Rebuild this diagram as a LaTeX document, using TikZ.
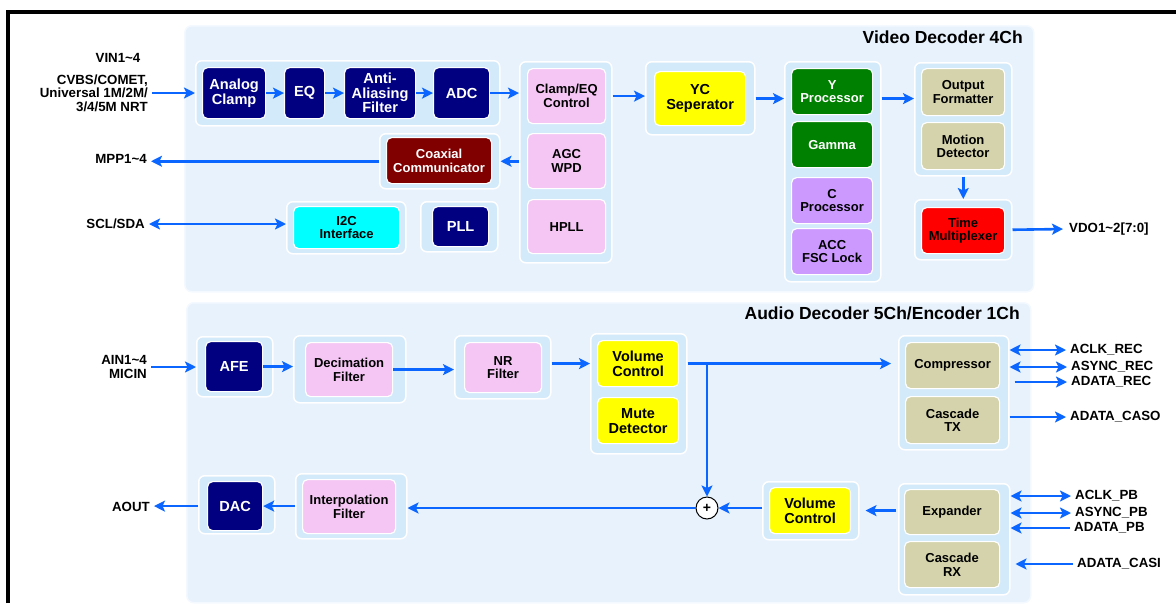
\documentclass[tikz,border=0pt]{standalone}
\usepackage{fontspec}
\setmainfont{Liberation Sans}
\usetikzlibrary{arrows.meta,calc}

\definecolor{fondopanel}{HTML}{E8F2FD}
\definecolor{bordepanel}{HTML}{F4F9FF}
\definecolor{fondogrupo}{HTML}{D3EAFB}
\definecolor{azulmarino}{HTML}{000080}
\definecolor{rosado}{HTML}{F5C6F4}
\definecolor{granate}{HTML}{800000}
\definecolor{cian}{HTML}{00FFFF}
\definecolor{amarillo}{HTML}{FFFF00}
\definecolor{verde}{HTML}{008000}
\definecolor{lila}{HTML}{CC99FF}
\definecolor{caqui}{HTML}{D4D3AB}
\definecolor{rojo}{HTML}{FF0000}
\definecolor{azulflecha}{HTML}{0A66FF}

\tikzset{
	panel/.style={draw=bordepanel, line width=1.5pt, fill=fondopanel, rounded corners=7pt, anchor=north west, inner sep=0pt},
	grupo/.style={draw=white, line width=1.5pt, fill=fondogrupo, rounded corners=6pt, anchor=north west, inner sep=0pt},
	bloque/.style={draw=white, line width=1.2pt, rounded corners=5pt, anchor=north west, inner sep=0pt, align=center, font=\bfseries\fontsize{13}{13.5}\selectfont},
	bmarino/.style={bloque, fill=azulmarino, text=white, font=\bfseries\fontsize{14.6}{14.5}\selectfont},
	brosa/.style={bloque, fill=rosado},
	bgranate/.style={bloque, fill=granate, text=white},
	bcian/.style={bloque, fill=cian},
	bamarillo/.style={bloque, fill=amarillo, font=\bfseries\fontsize{14.5}{15}\selectfont},
	bverde/.style={bloque, fill=verde, text=white},
	blila/.style={bloque, fill=lila},
	bcaqui/.style={bloque, fill=caqui},
	brojo/.style={bloque, fill=rojo},
	etiqueta/.style={inner sep=4pt, align=right, font=\bfseries\fontsize{13.3}{13.5}\selectfont},
	titulo/.style={anchor=east, inner sep=0pt, font=\bfseries\fontsize{17.5}{18}\selectfont},
	flecha/.style={draw=azulflecha, line width=2.6pt, -{Stealth[length=11pt,width=11pt,inset=2.5pt]}},
	doble/.style={draw=azulflecha, line width=2.6pt, {Stealth[length=11pt,width=11pt,inset=2.5pt]}-{Stealth[length=11pt,width=11pt,inset=2.5pt]}},
}

\begin{document}
\begin{tikzpicture}[x=1pt, y=-1pt]
	\useasboundingbox (0,0) rectangle (1176,603);

	% marco
	\draw[line width=4pt] (8,603) -- (8,12) -- (1176,12);

	% paneles
	\node[panel, minimum width=849, minimum height=266] (pvideo) at (184,25) {}; % (184,25)-(1033,291)
	\node[panel, minimum width=844, minimum height=300] (paudio) at (186,302) {}; % (186,302)-(1030,602)
	\node[titulo] (tvideo) at (1023,37) {Video Decoder 4Ch};
	\node[titulo] (taudio) at (1020,313) {Audio Decoder 5Ch/Encoder 1Ch};

	% grupos del video
	\node[grupo, minimum width=304, minimum height=65] (g1) at (195,60) {};
	\node[grupo, minimum width=92, minimum height=201] (g2) at (519,61) {};
	\node[grupo, minimum width=120, minimum height=55] (g3) at (379,133) {};
	\node[grupo, minimum width=119, minimum height=52] (g4) at (286,201) {};
	\node[grupo, minimum width=77, minimum height=50] (g5) at (420,201) {};
	\node[grupo, minimum width=109, minimum height=73] (g6) at (645,61) {};
	\node[grupo, minimum width=96, minimum height=220] (g7) at (784,61) {};
	\node[grupo, minimum width=97, minimum height=113] (g8) at (914,62) {};
	\node[grupo, minimum width=97, minimum height=60] (g9) at (914,199) {};

	% bloques del video
	\node[bmarino, minimum width=63, minimum height=51] (aclamp) at (202,67) {Analog\\Clamp};
	\node[bmarino, minimum width=40, minimum height=51] (eq) at (284,67) {EQ};
	\node[bmarino, minimum width=71, minimum height=51] (aaf) at (344,67) {Anti-\\Aliasing\\Filter};
	\node[bmarino, minimum width=56, minimum height=51] (adc) at (433,67) {ADC};
	\node[brosa, minimum width=78, minimum height=55] (clampeq) at (527,68) {Clamp/EQ\\Control};
	\node[brosa, minimum width=78, minimum height=55] (agc) at (527,133) {AGC\\WPD};
	\node[brosa, minimum width=78, minimum height=54] (hpll) at (527,199) {HPLL};
	\node[bgranate, minimum width=105, minimum height=46] (coax) at (386,137) {Coaxial\\Communicator};
	\node[bcian, minimum width=106, minimum height=42] (i2c) at (293,206) {I2C\\Interface};
	\node[bmarino, minimum width=56, minimum height=40] (pll) at (432,206) {PLL};
	\node[bamarillo, minimum width=91, minimum height=54] (yc) at (654,71) {YC\\Seperator};
	\node[bverde, minimum width=81, minimum height=46] (yproc) at (791,68) {Y\\Processor};
	\node[bverde, minimum width=81, minimum height=46] (gamma) at (791,121) {Gamma};
	\node[blila, minimum width=81, minimum height=46] (cproc) at (791,177) {C\\Processor};
	\node[blila, minimum width=81, minimum height=46] (acc) at (791,228) {ACC\\FSC Lock};
	\node[bcaqui, minimum width=83, minimum height=47] (outf) at (921,68) {Output\\Formatter};
	\node[bcaqui, minimum width=83, minimum height=47] (motion) at (921,122) {Motion\\Detector};
	\node[brojo, minimum width=83, minimum height=46] (tm) at (921,207) {Time\\Multiplexer};

	% etiquetas del video
	\node[etiqueta] (vin) at (118,58) {VIN1\textasciitilde 4};
	\node[etiqueta, anchor=east] (cvbs) at (152,93) {CVBS/COMET,\\Universal 1M/2M/\\3/4/5M NRT};
	\node[etiqueta, anchor=east] (mpp) at (151,159) {MPP1\textasciitilde 4};
	\node[etiqueta, anchor=east] (scl) at (149,224) {SCL/SDA};
	\node[etiqueta, anchor=west] (vdo) at (1065,229) {VDO1\textasciitilde 2[7:0]};

	% flechas del video
	\draw[flecha] (cvbs.east) -- (cvbs.east -| g1.west);
	\draw[flecha] (aclamp) -- (eq);
	\draw[flecha] (eq) -- (aaf);
	\draw[flecha] (aaf) -- (adc);
	\draw[flecha] (adc) -- (adc -| g2.west);
	\draw[flecha] (g2.east |- clampeq) -- (g6.west |- clampeq);
	\draw[flecha] (g6.east |- yc) -- (g7.west |- yc);
	\draw[flecha] (g7.east |- yc) -- (g8.west |- yc);
	\draw[flecha] (g8) -- (g9);
	\draw[flecha, shorten >=2pt] (g9.east) -- (vdo.west);
	\draw[flecha] (g2.west |- g3) -- (g3.east);
	\draw[flecha] (g3.west) -- (g3.west -| mpp.east);
	\draw[doble] (scl.east) -- (scl.east -| g4.west);

	% grupos del audio
	\node[grupo, minimum width=76, minimum height=60] (a1) at (196,336) {};
	\node[grupo, minimum width=112, minimum height=67] (a2) at (293,335) {};
	\node[grupo, minimum width=96, minimum height=63] (a3) at (454,335) {};
	\node[grupo, minimum width=96, minimum height=120] (a4) at (590,333) {};
	\node[grupo, minimum width=110, minimum height=114] (a5) at (898,335) {};
	\node[grupo, minimum width=111, minimum height=111] (a6) at (898,483) {};
	\node[grupo, minimum width=96, minimum height=58] (a7) at (762,481) {};
	\node[grupo, minimum width=111, minimum height=65] (a8) at (295,473) {};
	\node[grupo, minimum width=76, minimum height=58] (a9) at (198,475) {};

	% bloques del audio
	\node[bmarino, minimum width=57, minimum height=50] (afe) at (205,341) {AFE};
	\node[brosa, minimum width=87, minimum height=54] (dec) at (305,342) {Decimation\\Filter};
	\node[brosa, minimum width=77, minimum height=50] (nr) at (464,342) {NR\\Filter};
	\node[bamarillo, minimum width=81, minimum height=46] (vol) at (597,340) {Volume\\Control};
	\node[bamarillo, minimum width=81, minimum height=46] (mute) at (597,397) {Mute\\Detector};
	\node[bcaqui, minimum width=94, minimum height=46] (comp) at (905,342) {Compressor};
	\node[bcaqui, minimum width=94, minimum height=47] (ctx) at (905,396) {Cascade\\TX};
	\node[bcaqui, minimum width=95, minimum height=45] (exp) at (904,489) {Expander};
	\node[bcaqui, minimum width=95, minimum height=46] (crx) at (904,541) {Cascade\\RX};
	\node[bamarillo, minimum width=81, minimum height=46] (vol2) at (769,487) {Volume\\Control};
	\node[brosa, minimum width=93, minimum height=54] (interp) at (302,479) {Interpolation\\Filter};
	\node[bmarino, minimum width=55, minimum height=49] (dac) at (207,481) {DAC};
	\node[circle, draw=black, line width=1pt, fill=white, minimum size=22, inner sep=0pt, font=\bfseries\fontsize{14}{14}\selectfont] (suma) at (707,508) {+};

	% etiquetas del audio
	\node[etiqueta, anchor=east] (ain) at (151,367) {AIN1\textasciitilde 4\\MICIN};
	\node[etiqueta, anchor=east] (aout) at (154,507) {AOUT};
	\node[etiqueta, anchor=west] (aclkrec) at (1066,350) {ACLK\_REC};
	\node[etiqueta, anchor=west] (asyncrec) at (1067,367) {ASYNC\_REC};
	\node[etiqueta, anchor=west] (adatarec) at (1067,382) {ADATA\_REC};
	\node[etiqueta, anchor=west] (adatacaso) at (1066,417) {ADATA\_CASO};
	\node[etiqueta, anchor=west] (aclkpb) at (1071,496) {ACLK\_PB};
	\node[etiqueta, anchor=west] (asyncpb) at (1071,513) {ASYNC\_PB};
	\node[etiqueta, anchor=west] (adatapb) at (1070,528) {ADATA\_PB};
	\node[etiqueta, anchor=west] (adatacasi) at (1073,564) {ADATA\_CASI};

	% flechas del audio
	\draw[flecha] (ain.east) -- (ain.east -| a1.west);
	\draw[flecha] (afe) -- (afe -| a2.west);
	\draw[flecha] (dec) -- (dec -| a3.west);
	\draw[flecha] (a3.east |- vol) -- (a4.west |- vol);
	\draw[flecha, shorten >=7pt] (a4.east |- vol) -- (a5.west |- vol);
	\coordinate (union) at (suma |- vol);
	\draw[flecha] (union) -- (suma);
	\draw[flecha, shorten <=2pt, shorten >=6pt] (a6.west |- vol2) -- (a7.east |- vol2);
	\draw[flecha] (a7.west |- suma) -- (suma);
	\draw[flecha] (suma) -- (suma -| a8.east);
	\draw[flecha] (a8.west |- dac) -- (dac);
	\draw[flecha] (dac -| a9.west) -- (dac -| aout.east);
	\draw[doble] (a5.east |- aclkrec) -- (aclkrec.west);
	\draw[doble] (a5.east |- asyncrec) -- (asyncrec.west);
	\draw[flecha, shorten <=5pt] (a5.east |- adatarec) -- (adatarec.west);
	\draw[flecha] (a5.east |- adatacaso) -- (adatacaso.west);
	\draw[doble] (a6.east |- aclkpb) -- (aclkpb.west);
	\draw[doble] (a6.east |- asyncpb) -- (asyncpb.west);
	\draw[flecha] (adatapb.west) -- (a6.east |- adatapb);
	\draw[flecha, shorten >=5pt] (adatacasi.west) -- (a6.east |- adatacasi);
\end{tikzpicture}
\end{document}
